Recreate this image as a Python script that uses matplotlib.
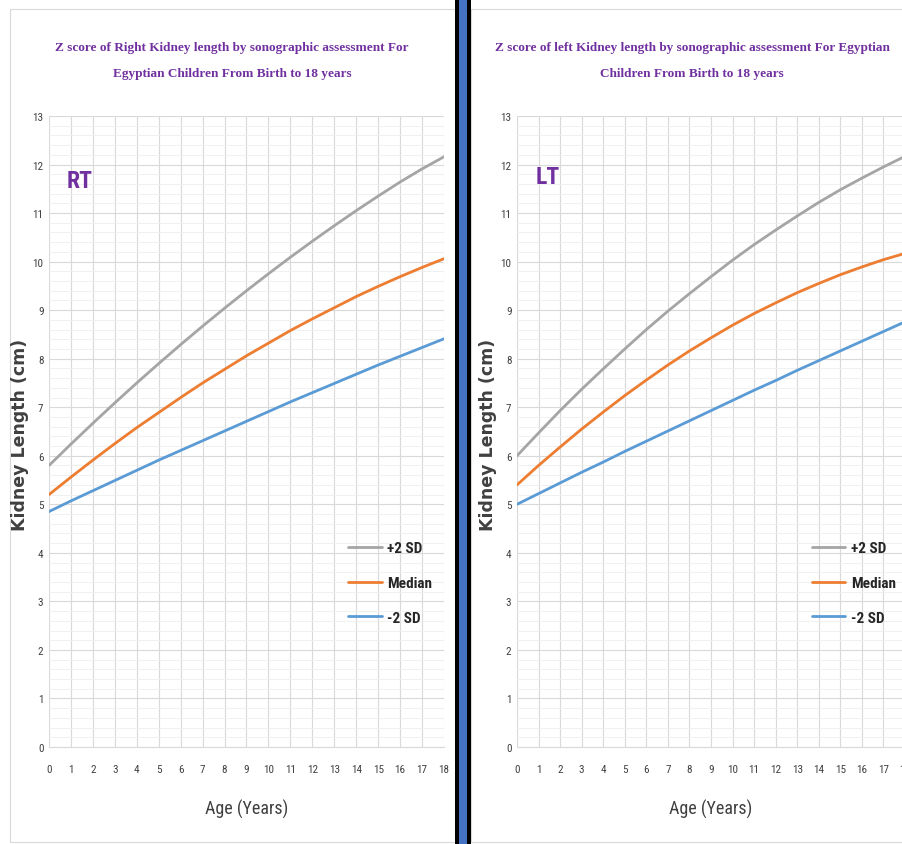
import numpy as np
import matplotlib
matplotlib.use("Agg")
import matplotlib.pyplot as plt
from matplotlib import font_manager
from matplotlib.patches import Rectangle
from matplotlib.ticker import MultipleLocator


def pick_font(names):
    for n in names:
        try:
            font_manager.findfont(font_manager.FontProperties(family=n),
                                  fallback_to_default=False)
            return n
        except Exception:
            pass
    return "DejaVu Sans"


age = list(range(0, 19))

# right kidney (cm)
rt_plus2 = [5.8, 6.24, 6.67, 7.09, 7.5, 7.9, 8.29, 8.67, 9.04, 9.4,
            9.75, 10.09, 10.42, 10.74, 11.05, 11.35, 11.64, 11.91, 12.16]
rt_median = [5.2, 5.56, 5.91, 6.25, 6.58, 6.89, 7.2, 7.5, 7.78, 8.06,
             8.32, 8.58, 8.82, 9.05, 9.28, 9.49, 9.69, 9.88, 10.06]
rt_minus2 = [4.85, 5.07, 5.28, 5.49, 5.7, 5.91, 6.11, 6.31, 6.51, 6.71,
             6.91, 7.11, 7.3, 7.49, 7.68, 7.87, 8.05, 8.23, 8.41]

# left kidney (cm)
lt_plus2 = [6.0, 6.47, 6.93, 7.37, 7.79, 8.2, 8.6, 8.98, 9.34, 9.69,
            10.03, 10.35, 10.65, 10.94, 11.22, 11.48, 11.72, 11.95, 12.17]
lt_median = [5.4, 5.8, 6.18, 6.55, 6.9, 7.24, 7.56, 7.87, 8.16, 8.43,
             8.69, 8.93, 9.15, 9.36, 9.55, 9.73, 9.89, 10.04, 10.17]
lt_minus2 = [5.0, 5.22, 5.44, 5.66, 5.87, 6.09, 6.3, 6.51, 6.72, 6.93,
             7.14, 7.35, 7.55, 7.76, 7.96, 8.16, 8.36, 8.56, 8.76]

series_names = ["+2 SD", "Median", "-2 SD"]
series_colors = ["#A5A5A5", "#ED7D31", "#5B9BD5"]

titles = ["Z score of Right Kidney length by sonographic assessment For\nEgyptian Children From Birth to 18 years",
          "Z score of left Kidney length by sonographic assessment For Egyptian\nChildren From Birth to 18 years"]
side_tags = ["RT", "LT"]

serif_c = pick_font(["DejaVu Serif Condensed", "Liberation Serif"])
narrow = pick_font(["Liberation Sans Narrow", "Roboto Condensed", "Open Sans Condensed", "Liberation Sans"])
wide_bold = pick_font(["Verdana", "DejaVu Sans"])

W, H = 903, 845
fig = plt.figure(figsize=(W / 100, H / 100), dpi=100)
fig.patch.set_facecolor("white")

# panel frames
fig.add_artist(Rectangle((10 / W, 2 / H), 445 / W, 833 / H, transform=fig.transFigure,
                         facecolor="white", edgecolor="#D9D9D9", lw=0.8, zorder=-10))
fig.add_artist(Rectangle((471 / W, 2 / H), 440 / W, 833 / H, transform=fig.transFigure,
                         facecolor="white", edgecolor="#D9D9D9", lw=0.8, zorder=-10))
# divider
fig.add_artist(Rectangle((455 / W, 0), 16 / W, 1, transform=fig.transFigure,
                         facecolor="black", edgecolor="none", zorder=-5))
fig.add_artist(Rectangle((459 / W, 0), 8 / W, 1, transform=fig.transFigure,
                         facecolor="#4472C4", edgecolor="none", zorder=-4))

purple = "#7030A0"
ax_left_px = [49, 517]
ax_width_px = [395, 388]
title_cx = [232, 692]
tag_pos = [(1.4, 11.67), (1.44, 11.75)]
leg_x = [0.757, 0.760]

data_sets = [[rt_plus2, rt_median, rt_minus2], [lt_plus2, lt_median, lt_minus2]]

for i in range(2):
    ax = fig.add_axes([ax_left_px[i] / W, 1 - 748 / H, ax_width_px[i] / W, 631 / H])
    ax.patch.set_alpha(0)
    for vals, name, col in zip(data_sets[i], series_names, series_colors):
        ax.plot(age, vals, color=col, lw=2.0, label=name, solid_capstyle="round")
    ax.set_xlim(0, 18)
    ax.set_ylim(0, 13)
    ax.xaxis.set_major_locator(MultipleLocator(1))
    ax.yaxis.set_major_locator(MultipleLocator(1))
    ax.yaxis.set_minor_locator(MultipleLocator(0.2))
    ax.grid(which="major", color="#D9D9D9", lw=0.8)
    ax.grid(which="minor", axis="y", color="#EEEEEE", lw=0.6)
    ax.set_axisbelow(True)
    for s in ["top", "right", "left"]:
        ax.spines[s].set_visible(False)
    ax.spines["bottom"].set_color("#D9D9D9")
    ax.tick_params(which="both", length=0)
    ax.tick_params(axis="x", pad=12)
    ax.tick_params(axis="y", pad=4)
    for lab in ax.get_xticklabels() + ax.get_yticklabels():
        lab.set_fontfamily(narrow)
        lab.set_fontsize(8)
        lab.set_color("#404040")
    ax.set_xlabel("Age (Years)", fontfamily=narrow, fontsize=13, color="#404040", labelpad=18)
    ax.set_ylabel("Kidney Length (cm)", fontfamily=wide_bold, fontsize=12.5,
                  fontweight="bold", color="#404040")
    ax.yaxis.set_label_coords(-20 / ax_width_px[i], 0.496)
    ax.text(tag_pos[i][0], tag_pos[i][1], side_tags[i], fontfamily=narrow, fontsize=17,
            fontweight="bold", color=purple, va="center", ha="center")
    leg = ax.legend(loc="center left", bbox_to_anchor=(leg_x[i], 0.26),
                    frameon=False, handlelength=2.2, handletextpad=0.35, labelspacing=1.35,
                    borderaxespad=0, borderpad=0,
                    prop={"family": narrow, "size": 11, "weight": "bold"})
    for t in leg.get_texts():
        t.set_color("#262626")
    fig.text(title_cx[i] / W, 1 - 61 / H, titles[i], ha="center", va="center",
             fontfamily=serif_c, fontsize=9.5, fontweight="bold", color=purple,
             linespacing=2.5)

plt.savefig("out.png", dpi=100)
